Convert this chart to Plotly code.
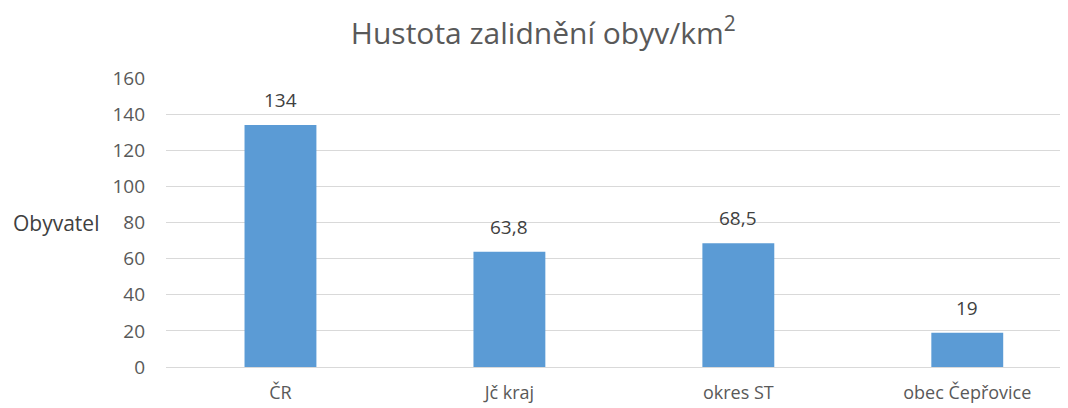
import plotly.graph_objects as go

# data
categories = ["ČR", "Jč kraj", "okres ST", "obec Čepřovice"]
hustota = [134, 63.8, 68.5, 19]
labels = ["134", "63,8", "68,5", "19"]
y_ticks = [0, 20, 40, 60, 80, 100, 120, 140, 160]

fig = go.Figure()

fig.add_trace(
    go.Bar(
        x=categories,
        y=hustota,
        marker=dict(color="#5B9BD5", line=dict(width=0)),
        showlegend=False,
    )
)

# popisky hodnot nad sloupci (s větší mezerou než textposition="outside")
for cat, val, lab in zip(categories, hustota, labels):
    fig.add_annotation(
        x=cat, y=val, text=lab,
        xref="x", yref="y",
        yanchor="bottom", yshift=10,
        showarrow=False,
        font=dict(size=19, color="#404040"),
    )

# popisek osy y je vodorovně, proto anotace
fig.add_annotation(
    text="Obyvatel",
    xref="paper", yref="paper",
    x=-0.072, y=0.5,
    xanchor="right", yanchor="middle",
    showarrow=False,
    font=dict(size=21, color="#404040"),
)

fig.update_layout(
    title=dict(
        text="Hustota zalidnění obyv/km<sup>2</sup>",
        x=0.505, xanchor="center", xref="container",
        y=0.937, yanchor="middle",
        font=dict(size=30, color="#595959"),
    ),
    width=1060,
    height=400,
    margin=dict(l=158, r=0, t=70, b=41),
    paper_bgcolor="white",
    plot_bgcolor="white",
    bargap=0.686,
    font=dict(family="Open Sans, Noto Sans, sans-serif", color="#595959"),
    xaxis=dict(
        range=[-0.5, 3.44],  # pravý okraj grafu je v originálu oříznutý
        showgrid=False,
        showline=False,
        tickfont=dict(size=18, color="#595959"),
        ticks="outside",
        ticklen=9,
        tickcolor="rgba(0,0,0,0)",
    ),
    yaxis=dict(
        range=[0, 160],
        tickvals=y_ticks,
        showgrid=True,
        gridcolor="#D9D9D9",
        gridwidth=1,
        zeroline=True,
        zerolinecolor="#D9D9D9",
        zerolinewidth=1,
        showline=False,
        tickfont=dict(size=19, color="#595959"),
        ticklabelstandoff=20,
    ),
)

fig.write_html("out.html")
